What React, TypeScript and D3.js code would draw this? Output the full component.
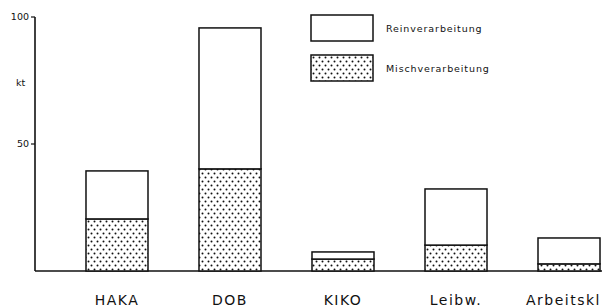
import React from "react";
import * as d3 from "d3";

const categories = ["HAKA", "DOB", "KIKO", "Leibw.", "Arbeitskl"];
const mischValues = [20.5, 40.2, 4.7, 10.2, 2.8];
const reinValues = [18.9, 55.5, 2.8, 22.1, 10.2];
const yTicks = [50, 100];
const legendLabels = ["Reinverarbeitung", "Mischverarbeitung"];
const unitLabel = "kt";

const W = 602;
const H = 307;

export default function App() {
  const y = d3.scaleLinear().domain([0, 100]).range([271, 17]);
  const x = d3
    .scaleBand<string>()
    .domain(categories)
    .range([60.5, 625.5])
    .paddingInner(0.4513)
    .paddingOuter(0.2256);

  const stack = d3
    .stack<number>()
    .keys(["misch", "rein"])
    .value((i, key) => (key === "misch" ? mischValues[i] : reinValues[i]));
  const series = stack(categories.map((_, i) => i));

  const font = "'DejaVu Sans', 'Liberation Sans', sans-serif";

  return (
    <svg
      width={W}
      height={H}
      style={{ position: "absolute", left: 0, top: 0, background: "#fff" }}
    >
      <defs>
        <pattern id="dots" width="6" height="8" patternUnits="userSpaceOnUse">
          <rect width="6" height="8" fill="#fff" />
          <circle cx="1.5" cy="1.5" r="1" fill="#111" />
          <circle cx="4.5" cy="5.5" r="1" fill="#111" />
        </pattern>
      </defs>
      {/* axis */}
      <line x1={35} x2={35} y1={y(100)} y2={y(0)} stroke="#111" strokeWidth={1.6} />
      <line x1={35} x2={W} y1={y(0)} y2={y(0)} stroke="#111" strokeWidth={1.4} />
      {yTicks.map((t) => (
        <g key={t}>
          <line x1={31} x2={35} y1={y(t)} y2={y(t)} stroke="#111" strokeWidth={1.2} />
          <text
            x={29}
            y={y(t)}
            dy="0.35em"
            textAnchor="end"
            fontSize={9.5}
            fontFamily={font}
            fill="#111"
          >
            {t}
          </text>
        </g>
      ))}
      <text x={16} y={y(74)} dy="0.35em" fontSize={9.5} fontFamily={font} fill="#111">
        {unitLabel}
      </text>
      {/* bars */}
      {series.map((s) =>
        s.map((d, i) => (
          <rect
            key={s.key + i}
            x={x(categories[i])!}
            y={y(d[1])}
            width={x.bandwidth()}
            height={y(d[0]) - y(d[1])}
            fill={s.key === "misch" ? "url(#dots)" : "#fff"}
            stroke="#111"
            strokeWidth={1.5}
          />
        ))
      )}
      {/* category labels */}
      {categories.map((c, i) => {
        const last = i === categories.length - 1;
        return (
          <text
            key={c}
            x={last ? W - 1 : x(c)! + x.bandwidth() / 2}
            y={305}
            textAnchor={last ? "end" : "middle"}
            fontSize={14}
            letterSpacing={1.5}
            fontFamily={font}
            fill="#111"
          >
            {c}
          </text>
        );
      })}
      {/* legend */}
      {legendLabels.map((l, i) => (
        <g key={l}>
          <rect
            x={311}
            y={15 + i * 40}
            width={62}
            height={26}
            fill={i === 0 ? "#fff" : "url(#dots)"}
            stroke="#111"
            strokeWidth={1.5}
          />
          <text
            x={386}
            y={29 + i * 40}
            dy="0.35em"
            fontSize={9.5}
            letterSpacing={0.9}
            fontFamily={font}
            fill="#111"
          >
            {l}
          </text>
        </g>
      ))}
    </svg>
  );
}
